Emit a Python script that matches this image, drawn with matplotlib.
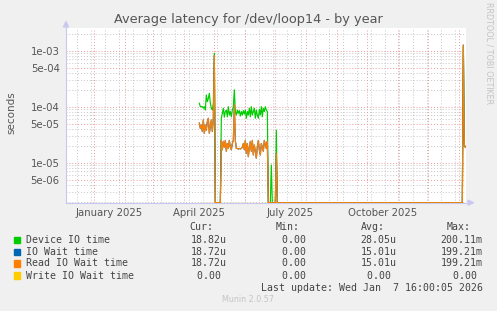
import matplotlib
matplotlib.use("Agg")
import matplotlib.pyplot as plt
import matplotlib.dates as mdates
from matplotlib.patches import Polygon
import numpy as np
import pandas as pd

# ---------------- data ----------------
active_start = "2025-04-16"
device_active = [1.15e-4, 1.0e-4, 1.0e-4, 1.0e-4, 9.4e-5, 1.0e-4, 8.7e-5, 1.62e-4, 1.23e-4, 1.41e-4,
                 1.73e-4, 1.15e-4, 9.4e-5, 8.7e-5, 1.15e-4, 9.0e-4, 0, 0, 0, 0,
                 0, 0, 6.2e-5, 7.6e-5, 9.4e-5, 6.5e-5, 8.2e-5, 8.7e-5, 6.6e-5, 1.0e-4,
                 7.1e-5, 8.2e-5, 6.6e-5, 8.7e-5, 1.0e-4, 2.0e-4, 8.2e-5, 7.1e-5, 8.7e-5, 7.6e-5,
                 8.5e-5, 6.8e-5, 8.2e-5, 7.1e-5, 8.5e-5, 7.4e-5, 8.7e-5, 6.2e-5, 8.2e-5, 7.1e-5,
                 9.4e-5, 6.6e-5, 1.0e-4, 7.1e-5, 8.2e-5, 9.4e-5, 6.2e-5, 8.7e-5, 7.1e-5, 6.2e-5,
                 9.0e-5, 7.1e-5, 1.0e-4, 6.6e-5, 9.4e-5, 8.2e-5, 1.0e-4, 8.7e-5, 8.2e-5, 0,
                 0, 0, 9.1e-6, 0, 0, 0, 0, 3.8e-5, 0]
read_active = [5.1e-5, 4.1e-5, 4.7e-5, 3.6e-5, 5.8e-5, 3.35e-5, 4.7e-5, 3.8e-5, 5.4e-5, 6.2e-5,
               3.35e-5, 4.4e-5, 5.8e-5, 3.6e-5, 6.2e-5, 8.2e-4, 0, 0, 0, 0,
               0, 0, 2.5e-5, 1.7e-5, 2.4e-5, 1.9e-5, 2.5e-5, 1.6e-5, 2.2e-5, 1.8e-5,
               2.5e-5, 1.9e-5, 1.7e-5, 2.2e-5, 2.5e-5, 1.1e-4, 2.5e-5, 1.8e-5, 1.8e-5, 1.75e-5,
               1.8e-5, 1.76e-5, 1.8e-5, 1.88e-5, 2.2e-5, 1.7e-5, 2.5e-5, 1.47e-5, 2.2e-5, 1.28e-5,
               1.9e-5, 2.4e-5, 1.6e-5, 2.5e-5, 1.37e-5, 2.07e-5, 1.6e-5, 1.2e-5, 1.9e-5, 2.5e-5,
               1.7e-5, 1.37e-5, 2.2e-5, 1.9e-5, 1.6e-5, 2.5e-5, 2.07e-5, 1.8e-5, 2.4e-5, 0,
               0, 0, 0, 0, 0, 0, 0, 1.47e-5, 0]
io_wait_active = read_active

tail_dates = ["2026-01-04", "2026-01-05", "2026-01-06", "2026-01-07", "2026-01-07 16:00"]
device_tail = [0, 1.2e-3, 2.07e-5, 1.9e-5, 1.882e-5]
read_tail = [0, 1.26e-3, 2.07e-5, 1.88e-5, 1.872e-5]
io_wait_tail = read_tail

series_names = ["Device IO time", "IO Wait time", "Read IO Wait time", "Write IO Wait time"]
series_colors = ["#00CC00", "#0066B3", "#FF8000", "#FFCC00"]
cur_vals = ["18.82u", "18.72u", "18.72u", "0.00 "]
min_vals = ["0.00 ", "0.00 ", "0.00 ", "0.00 "]
avg_vals = ["28.05u", "15.01u", "15.01u", "0.00 "]
max_vals = ["200.11m", "199.21m", "199.21m", "0.00 "]

y_tick_vals = [1e-3, 5e-4, 1e-4, 5e-5, 1e-5, 5e-6]
y_tick_labels = ["1e-03", "5e-04", "1e-04", "5e-05", "1e-05", "5e-06"]
x_label_dates = ["2025-01-16", "2025-04-16", "2025-07-16", "2025-10-16"]
x_label_texts = ["January 2025", "April 2025", "July 2025", "October 2025"]

# ---------------- figure ----------------
W, H = 497, 311
fig = plt.figure(figsize=(W / 100, H / 100), dpi=100, facecolor="#F0F0F0")
L, R, T, B = 66, 466, 28, 202.7
ax = fig.add_axes([L / W, 1 - B / H, (R - L) / W, (B - T) / H])
ax.set_facecolor("white")
ax.set_yscale("log")
ymin, ymax = 1.93e-6, 2.54e-3
ax.set_ylim(ymin, ymax)
xstart = mdates.date2num(pd.Timestamp("2024-12-03 16:00").to_pydatetime())
xend = mdates.date2num(pd.Timestamp("2026-01-07 16:00").to_pydatetime())
ax.set_xlim(xstart, xend)

# grid
minor_col = "#C6C6C6"
major_col = "#EC9C9C"
dot = (0, (1, 2))
for d in pd.date_range("2024-12-15", "2026-01-10", freq="14D"):
    ax.axvline(mdates.date2num(d.to_pydatetime()), color=minor_col, lw=0.7, ls=dot, zorder=0)
for d in pd.date_range("2024-12-01", "2026-02-01", freq="MS"):
    x = mdates.date2num(d.to_pydatetime())
    if xstart < x < xend:
        ax.axvline(x, color=major_col, lw=0.7, ls=dot, zorder=0.5)
for e in range(-6, -2):
    for m in range(1, 10):
        v = m * 10.0 ** e
        if ymin < v < ymax:
            if m in (1, 5):
                ax.axhline(v, color=major_col, lw=0.7, ls=dot, zorder=0.5)
            else:
                ax.axhline(v, color=minor_col, lw=0.7, ls=dot, zorder=0)

# series
dates = list(pd.date_range(active_start, periods=len(device_active), freq="D")) + \
        [pd.Timestamp(t) for t in tail_dates]
xd = mdates.date2num([d.to_pydatetime() for d in dates])
device = np.array(device_active + device_tail, dtype=float)
io_wait = np.array(io_wait_active + io_wait_tail, dtype=float)
read = np.array(read_active + read_tail, dtype=float)
write = np.zeros(len(xd))

for vals, col in zip([device, io_wait, read, write], series_colors):
    yy = np.where(vals > 0, vals, ymin)
    ax.plot(xd, yy, color=col, lw=0.85, zorder=3)

# axes styling
for s in ["top", "right"]:
    ax.spines[s].set_visible(False)
axis_col = "#C8C8F0"
ax.spines["left"].set_color(axis_col)
ax.spines["bottom"].set_color(axis_col)
ax.spines["left"].set_linewidth(0.8)
ax.spines["bottom"].set_linewidth(0.8)

ax.set_yticks(y_tick_vals)
ax.set_yticklabels(y_tick_labels)
ax.yaxis.set_minor_locator(matplotlib.ticker.NullLocator())
ax.tick_params(axis="y", length=0, pad=4.5, labelsize=7.3, labelcolor="#555555")
ax.set_xticks(mdates.date2num([pd.Timestamp(d).to_pydatetime() for d in x_label_dates]))
ax.set_xticklabels(x_label_texts)
ax.tick_params(axis="x", length=0, pad=3.5, labelsize=7.3, labelcolor="#555555")

# arrows
def px(x, y):
    return (x / W, 1 - y / H)
fig.patches.append(Polygon([px(63.5, 27), px(68.5, 27), px(66, 21.5)], closed=True,
                           transform=fig.transFigure, color=axis_col, zorder=5))
fig.patches.append(Polygon([px(468, 200.2), px(468, 205.2), px(473.5, 202.7)], closed=True,
                           transform=fig.transFigure, color=axis_col, zorder=5))

# title and side texts
fig.text(248.5 / W, 1 - 19 / H, "Average latency for /dev/loop14 - by year",
         ha="center", va="center", fontsize=9.3, color="#555555")
fig.text(11 / W, 1 - 113 / H, "seconds", rotation=90,
         ha="center", va="center", fontsize=7.5, color="#555555")
fig.text(488.5 / W, 1 - 53 / H, "RRDTOOL / TOBI OETIKER", rotation=-90,
         ha="center", va="center", fontsize=5.8, color="#C4C4C4")

# legend
mono = dict(family="DejaVu Sans Mono", fontsize=7.1, color="#444444")
hdr_y = 227.5
for txt, xr in zip(["Cur:", "Min:", "Avg:", "Max:"], [213.5, 299.5, 385, 470.5]):
    fig.text(xr / W, 1 - hdr_y / H, txt, ha="right", va="center", **mono)
row_y = [240, 251.8, 263.4, 275.6]
for i, name in enumerate(series_names):
    y = row_y[i]
    fig.patches.append(plt.Rectangle(px(14, y + 3.2), 6 / W, 6.4 / H, transform=fig.transFigure,
                                     color=series_colors[i], zorder=5))
    fig.text(26 / W, 1 - y / H, name, ha="left", va="center", **mono)
    for vals, xr in zip([cur_vals, min_vals, avg_vals, max_vals], [226.8, 312, 396.8, 482.8]):
        fig.text(xr / W, 1 - y / H, vals[i], ha="right", va="center", **mono)
fig.text(482.8 / W, 1 - 287.7 / H, "Last update: Wed Jan  7 16:00:05 2026",
         ha="right", va="center", **mono)
fig.text(248 / W, 1 - 300 / H, "Munin 2.0.57", ha="center", va="center",
         fontsize=5.8, color="#C4C4C4")

fig.savefig("out.png", dpi=100, facecolor=fig.get_facecolor())
